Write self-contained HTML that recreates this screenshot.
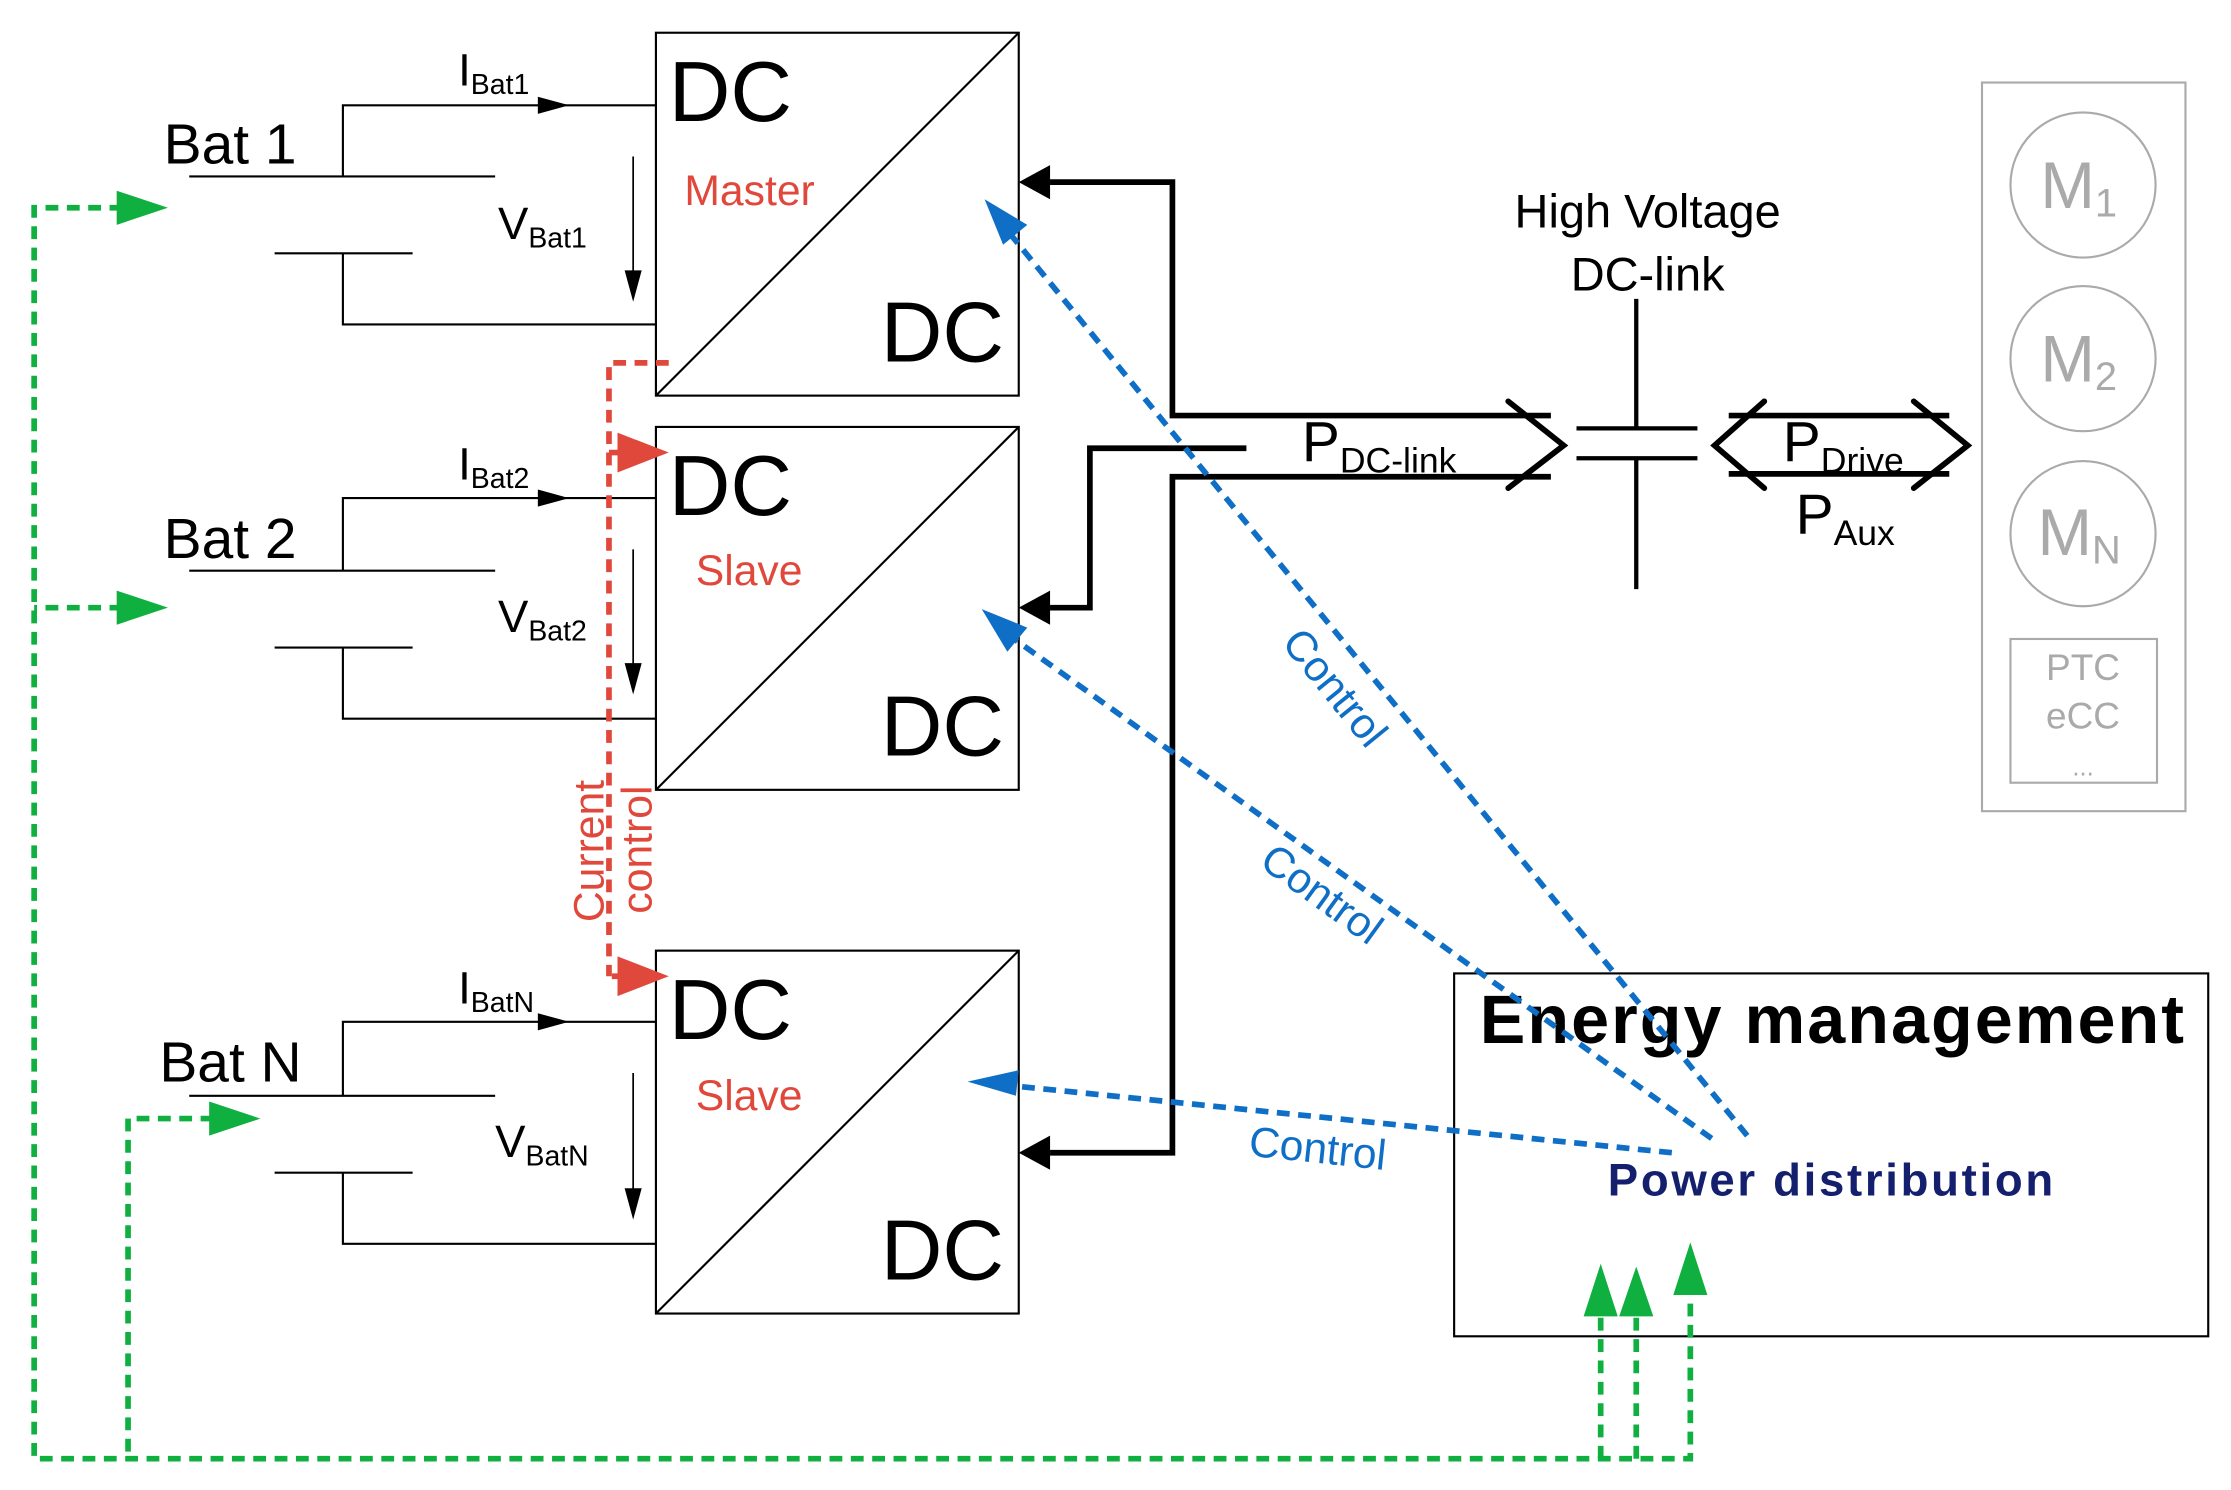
<!DOCTYPE html>
<html><head><style>html,body{margin:0;padding:0;background:#fff}svg{display:block}</style></head><body>
<svg width="2231" height="1490" viewBox="0 0 1568 1047" preserveAspectRatio="none" xmlns="http://www.w3.org/2000/svg" font-family="Liberation Sans, sans-serif">
<rect width="1568" height="1047" fill="#fff"/>
<!-- converter boxes -->
<g fill="none" stroke="#000" stroke-width="1.5">
<rect x="461" y="23" width="255" height="255"/><line x1="461" y1="278" x2="716" y2="23"/>
<rect x="461" y="300" width="255" height="255"/><line x1="461" y1="555" x2="716" y2="300"/>
<rect x="461" y="668" width="255" height="255"/><line x1="461" y1="923" x2="716" y2="668"/>
</g>
<g font-size="60" fill="#000">
<text x="470" y="85">DC</text><text x="619" y="254">DC</text>
<text x="470" y="362">DC</text><text x="619" y="531">DC</text>
<text x="470" y="730">DC</text><text x="619" y="899">DC</text>
</g>
<g font-size="30" fill="#e0483c">
<text x="481" y="144">Master</text><text x="489" y="411">Slave</text><text x="489" y="780">Slave</text>
</g>
<!-- batteries -->
<g stroke="#000" stroke-width="1.5" fill="none">
<path d="M461,74H241V124M133,124H348M193,178H290M241,178V228H461"/>
<path d="M461,350H241V401M133,401H348M193,455H290M241,455V505H461"/>
<path d="M461,718H241V770M133,770H348M193,824H290M241,824V874H461"/>
</g>
<g fill="#000">
<path d="M378,68L400,74L378,80z"/><path d="M378,344L400,350L378,356z"/><path d="M378,712L400,718L378,724z"/>
<path d="M439,190L445,212L451,190z"/><path d="M439,466L445,488L451,466z"/><path d="M439,835L445,857L451,835z"/>
</g>
<g stroke="#000" stroke-width="1.2"><line x1="445" y1="110" x2="445" y2="200"/><line x1="445" y1="386" x2="445" y2="476"/><line x1="445" y1="754" x2="445" y2="845"/></g>
<g font-size="40" fill="#000"><text x="115" y="115">Bat 1</text><text x="115" y="392">Bat 2</text><text x="112" y="760">Bat N</text></g>
<g font-size="32" fill="#000">
<text x="322" y="60">I<tspan font-size="20" dy="6">Bat1</tspan></text>
<text x="322" y="337">I<tspan font-size="20" dy="6">Bat2</tspan></text>
<text x="322" y="705">I<tspan font-size="20" dy="6">BatN</tspan></text>
<text x="350" y="168">V<tspan font-size="20" dy="6">Bat1</tspan></text>
<text x="350" y="444">V<tspan font-size="20" dy="6">Bat2</tspan></text>
<text x="348" y="813">V<tspan font-size="20" dy="6">BatN</tspan></text>
</g>
<!-- HV black lines -->
<g stroke="#000" stroke-width="4" fill="none" stroke-linejoin="miter">
<path d="M738,128H824V292H1090"/><path d="M1090,335H824V810H738"/>
<path d="M876,315H766V427H738"/>
<path d="M1060,282L1099,313L1060,343" stroke-linecap="round"/>
<path d="M1240,282L1205,313L1240,343M1345,282L1383,313L1345,343" stroke-linecap="round"/>
<path d="M1215,292H1370M1215,333H1370"/>
</g>
<g fill="#000"><path d="M738,116L716,128L738,140z"/><path d="M738,415L716,427L738,439z"/><path d="M738,798L716,810L738,822z"/></g>
<g stroke="#000" stroke-width="3"><path d="M1150,210V301M1108,301H1193M1108,322H1193M1150,322V414" fill="none"/></g>
<text x="1158" y="160" font-size="33" text-anchor="middle">High Voltage</text>
<text x="1158" y="204" font-size="33" text-anchor="middle">DC-link</text>
<text x="915" y="324" font-size="40">P<tspan font-size="25" dy="8">DC-link</tspan></text>
<text x="1253" y="324" font-size="40">P<tspan font-size="25" dy="8">Drive</tspan></text>
<text x="1262" y="375" font-size="40">P<tspan font-size="25" dy="8">Aux</tspan></text>
<!-- gray box -->
<g stroke="#aaa" stroke-width="1.5" fill="none">
<rect x="1393" y="58" width="143" height="512"/>
<circle cx="1464" cy="130" r="51"/><circle cx="1464" cy="252" r="51"/><circle cx="1464" cy="375" r="51"/>
<rect x="1413" y="449" width="103" height="101"/>
</g>
<g fill="#aaa" font-size="46">
<text x="1434" y="146">M<tspan font-size="28" dy="6">1</tspan></text>
<text x="1434" y="268">M<tspan font-size="28" dy="6">2</tspan></text>
<text x="1432" y="390">M<tspan font-size="28" dy="6">N</tspan></text>
<text x="1464" y="478" font-size="26" text-anchor="middle">PTC</text>
<text x="1464" y="512" font-size="26" text-anchor="middle">eCC</text>
<text x="1464" y="545" font-size="18" text-anchor="middle">...</text>
</g>
<!-- energy management -->
<rect x="1022" y="684" width="530" height="255" fill="none" stroke="#000" stroke-width="1.5"/>
<text x="1040" y="733" font-size="48" font-weight="bold" textLength="495">Energy management</text>
<text x="1130" y="840" font-size="32" font-weight="bold" fill="#14206e" textLength="313">Power distribution</text>
<!-- blue control -->
<g stroke="#0f6fc6" stroke-width="4" stroke-dasharray="9,6" fill="none">
<line x1="1228" y1="798" x2="708" y2="162"/>
<line x1="1203" y1="800" x2="710" y2="447"/>
<line x1="1175" y1="810" x2="702" y2="762"/>
</g>
<g fill="#0f6fc6">
<path d="M692,140L722,158L705,172z"/>
<path d="M690,428L722,441L708,458z"/>
<path d="M680,760L716,752L714,770z"/>
</g>
<g fill="#0f6fc6" font-size="30">
<text transform="translate(900,452) rotate(51)">Control</text>
<text transform="translate(884,608) rotate(36)">Control</text>
<text transform="translate(877,812) rotate(6)">Control</text>
</g>
<!-- red current control -->
<path d="M470,255H428V686" fill="none" stroke="#e0483c" stroke-width="4" stroke-dasharray="9,6"/>
<path d="M428,318H448" stroke="#e0483c" stroke-width="4"/>
<path d="M430,686H448" stroke="#e0483c" stroke-width="4"/>
<path d="M434,304L470,318L434,332z" fill="#e0483c"/>
<path d="M434,672L470,686L434,700z" fill="#e0483c"/>
<g font-size="30" transform="rotate(-90)">
<text x="-648" y="424" fill="#e0483c">Current</text>
<text x="-642" y="458" fill="#e0483c">control</text>
</g>
<!-- green -->
<g stroke="#10b040" stroke-width="4" stroke-dasharray="9,6" fill="none">
<path d="M86,146H24V1025H1188V900"/>
<path d="M86,427H24"/>
<path d="M150,786H90V1025"/>
<path d="M1125,1025V910M1150,1025V910"/>
</g>
<g fill="#10b040">
<path d="M82,134L118,146L82,158z"/><path d="M82,415L118,427L82,439z"/><path d="M147,774L183,786L147,798z"/>
<path d="M1113,925L1125,888L1137,925z"/><path d="M1138,925L1150,890L1162,925z"/><path d="M1176,910L1188,873L1200,910z"/>
</g>
</svg>
</body></html>
